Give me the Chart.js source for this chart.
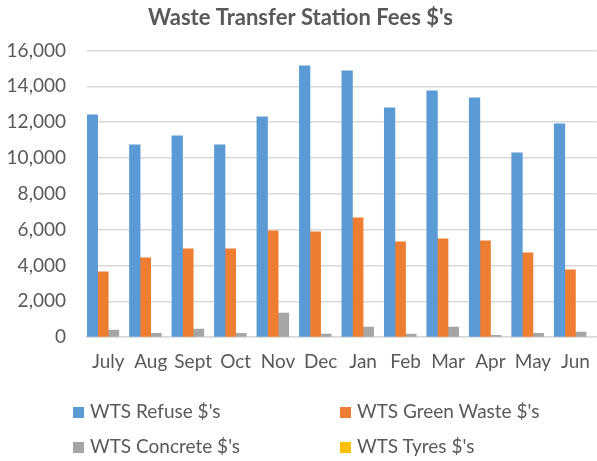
<!DOCTYPE html>
<html>
<head>
<meta charset="utf-8">
<script src="https://cdn.jsdelivr.net/npm/chart.js@4/dist/chart.umd.min.js"></script>
<style>
    html, body { margin: 0; padding: 0; background: #fff; overflow: hidden; }
    #wrap { position: relative; width: 603px; height: 461px; }
    #legend { position: absolute; left: 0; top: 0; width: 597px; height: 461px; pointer-events: none;
              font-family: Lato, 'Liberation Sans', sans-serif; font-size: 19px; color: #595959; }
    .item { position: absolute; white-space: nowrap; line-height: 20px; }
    .box { display: inline-block; width: 11px; height: 11px; margin-right: 6px; vertical-align: 0px; }
</style>
</head>
<body>
<div id="wrap">
    <canvas id="wtsChart" width="603" height="461"></canvas>
    <div id="legend"></div>
</div>
<script>
// Data
const months = ['July', 'Aug', 'Sept', 'Oct', 'Nov', 'Dec', 'Jan', 'Feb', 'Mar', 'Apr', 'May', 'Jun'];
const refuse = [12400, 10730, 11230, 10730, 12290, 15140, 14860, 12800, 13740, 13350, 10280, 11900];
const greenWaste = [3640, 4430, 4930, 4930, 5930, 5880, 6660, 5320, 5490, 5370, 4700, 3760];
const concrete = [400, 220, 450, 220, 1340, 170, 560, 170, 560, 110, 220, 280];
// no tyre fees visible in any month
const tyres = [null, null, null, null, null, null, null, null, null, null, null, null];

const seriesNames = ["WTS Refuse $'s", "WTS Green Waste $'s", "WTS Concrete $'s", "WTS Tyres $'s"];
const seriesColors = ['#5B9BD5', '#ED7D31', '#A5A5A5', '#FFC000'];

const textColor = '#595959';
const fontFamily = "Lato, 'Liberation Sans', sans-serif";

const chart = new Chart(document.getElementById('wtsChart'), {
    type: 'bar',
    data: {
        labels: months,
        datasets: [refuse, greenWaste, concrete, tyres].map((d, i) => ({
            label: seriesNames[i],
            data: d,
            backgroundColor: seriesColors[i],
            borderWidth: 0,
            categoryPercentage: 1.0,
            barPercentage: 1.0
        }))
    },
    options: {
        responsive: false,
        animation: false,
        layout: { padding: { left: 0, right: 2, top: 5, bottom: 75 } },
        plugins: {
            legend: { display: false },
            tooltip: { enabled: false },
            title: {
                display: true,
                text: "Waste Transfer Station Fees $'s",
                color: textColor,
                font: { family: fontFamily, size: 22, weight: 'bold' },
                padding: { top: 0, bottom: 19 }
            }
        },
        scales: {
            y: {
                min: 0,
                max: 16000,
                afterFit: (scale) => { scale.width = 87; },
                ticks: {
                    stepSize: 2000,
                    color: textColor,
                    padding: 21,
                    font: { family: fontFamily, size: 19 },
                    callback: (v) => v.toLocaleString('en-US')
                },
                grid: { color: '#D9D9D9', lineWidth: 1.5, drawTicks: false },
                border: { display: false }
            },
            x: {
                ticks: {
                    color: textColor,
                    padding: 13,
                    minRotation: 0,
                    maxRotation: 0,
                    autoSkip: false,
                    font: { family: fontFamily, size: 19 }
                },
                grid: { display: false, drawTicks: false },
                border: { color: '#D9D9D9', width: 1.5 }
            }
        }
    }
});

// Two-column legend like the spreadsheet one
const legendPos = [[73, 401], [340, 401], [73, 436], [340, 436]];
const legendEl = document.getElementById('legend');
chart.data.datasets.forEach((ds, i) => {
    const item = document.createElement('div');
    item.className = 'item';
    item.style.left = legendPos[i][0] + 'px';
    item.style.top = legendPos[i][1] + 'px';
    item.innerHTML = '<span class="box" style="background:' + ds.backgroundColor + '"></span>';
    item.appendChild(document.createTextNode(ds.label));
    legendEl.appendChild(item);
});
</script>
</body>
</html>
